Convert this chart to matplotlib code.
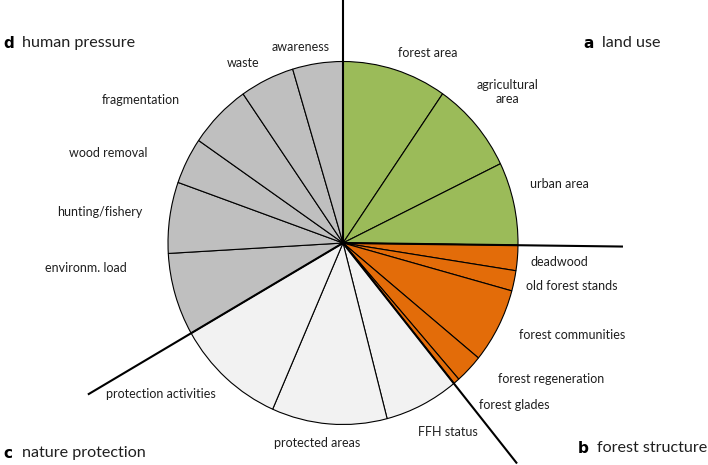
import numpy as np
import matplotlib.pyplot as plt

# slice sizes in degrees, read clockwise from 12 o'clock
categories = ["forest area", "agricultural\narea", "urban area",
              "deadwood", "old forest stands", "forest communities",
              "forest regeneration", "forest glades",
              "FFH status", "protected areas", "protection activities",
              "environm. load", "hunting/fishery", "wood removal",
              "fragmentation", "waste", "awareness"]
values = [34.7, 29.4, 26.6,
          8.1, 6.5, 24.0, 9.3, 2.1,
          24.7, 38.3, 36.5,
          26.5, 22.8, 14.9, 20.8, 18.1, 16.7]
groups = ["land use"] * 3 + ["forest structure"] * 5 + ["nature protection"] * 3 + ["human pressure"] * 6
group_letters = {"land use": "a", "forest structure": "b", "nature protection": "c", "human pressure": "d"}
group_colors = {"land use": "#9BBB59", "forest structure": "#E36C09",
                "nature protection": "#F2F2F2", "human pressure": "#BFBFBF"}

W, H = 708, 465
cx, cy, rx, ry = 343, 243, 175, 181.5

fig = plt.figure(figsize=(W / 100, H / 100), dpi=100)
plt.rcParams['font.family'] = ['Lato', 'DejaVu Sans']

# pie axes: unit circle mapped on the pixel ellipse
pax = fig.add_axes([(cx - rx) / W, (H - cy - ry) / H, 2 * rx / W, 2 * ry / H])
colors = [group_colors[g] for g in groups]
pax.pie(values, colors=colors, startangle=90, counterclock=False, radius=1,
        wedgeprops=dict(edgecolor="black", linewidth=0.8))
pax.set_aspect('auto')
pax.set_xlim(-1, 1)
pax.set_ylim(-1, 1)
pax.axis('off')

# separator lines where each group starts (length in pie radii)
line_len = {"land use": 1.34, "forest structure": 1.6,
            "nature protection": 1.57, "human pressure": 1.68}
cum = 0
start = {}
for v, g in zip(values, groups):
    if g not in start:
        start[g] = cum
    cum += v
for g, s in start.items():
    ang = np.deg2rad(90 - s)
    L = line_len[g]
    pax.plot([0, L * np.cos(ang)], [0, L * np.sin(ang)], color="black", lw=1.5,
             clip_on=False, solid_capstyle="butt")

# overlay axes in pixel coordinates for the text
tax = fig.add_axes([0, 0, 1, 1])
tax.set_xlim(0, W)
tax.set_ylim(H, 0)
tax.axis('off')

label_pos = [(428, 53), (508, 92), (559, 184),
             (559, 262), (572, 286), (572, 335), (551, 379), (514, 405),
             (448, 432), (317, 443), (161, 394),
             (86, 268), (100, 212), (108, 153), (141, 100), (243, 63), (301, 47)]
for name, (x, y) in zip(categories, label_pos):
    tax.text(x, y, name, ha="center", va="center", fontsize=9, color="#1f1f1f",
             linespacing=1.2)

title_pos = {"land use": (583, 43), "forest structure": (578, 448),
             "nature protection": (3, 453), "human pressure": (3, 43)}
for g, (x, y) in title_pos.items():
    tax.text(x, y, group_letters[g], ha="left", va="center", fontsize=11,
             fontweight="bold", family="DejaVu Sans", color="black")
    tax.text(x + 19, y, g, ha="left", va="center", fontsize=11.6, color="#1f1f1f")

fig.savefig("out.png", dpi=100)
